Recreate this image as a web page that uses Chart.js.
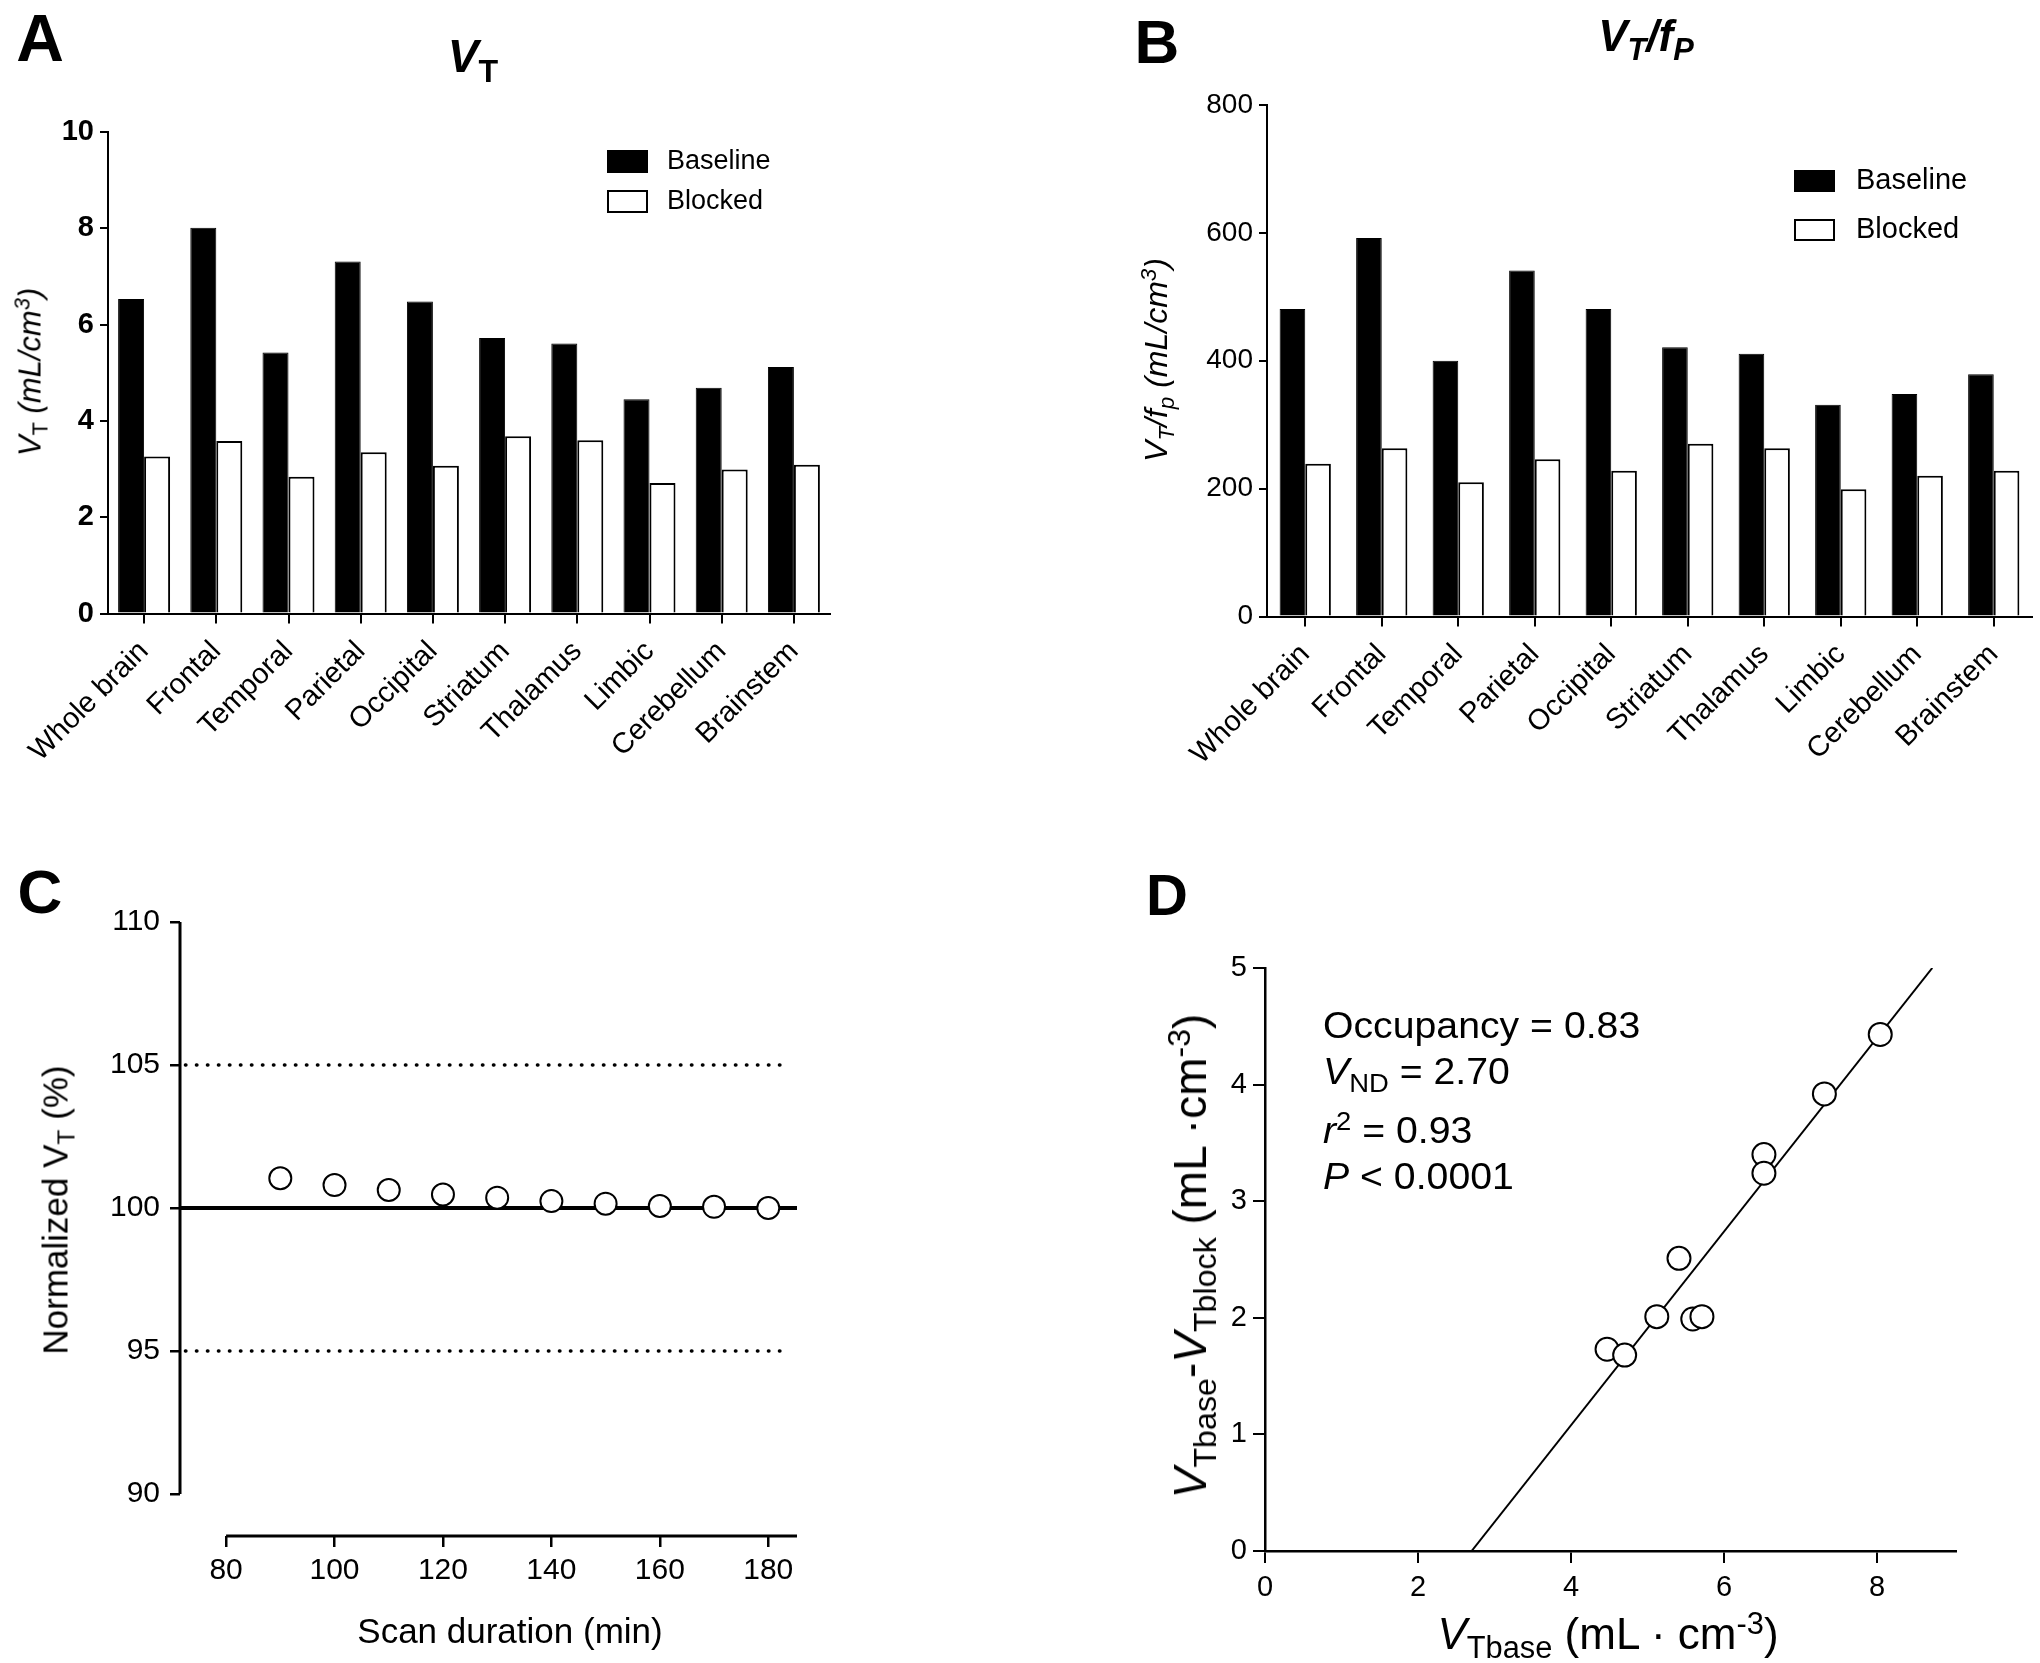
<!DOCTYPE html>
<html>
<head>
<meta charset="utf-8">
<script src="https://cdn.jsdelivr.net/npm/chart.js@4.4.0/dist/chart.umd.min.js"></script>
<style>
  body { margin: 0; background: #fff; width: 2040px; height: 1663px; position: relative; overflow: hidden;
         font-family: 'Liberation Sans', Arial, sans-serif; color: #000; }
  canvas { position: absolute; }
  .lbl { position: absolute; white-space: nowrap; line-height: 1; transform: translate(-50%, -50%); }
  .rot { transform: translate(-50%, -50%) rotate(-90deg); }
  .left { transform: translate(0, -50%) scaleX(1.06); transform-origin: left center; }
  sub, sup { font-size: 0.7em; line-height: 0; position: relative; vertical-align: baseline; }
  sub { top: 0.3em; }
  sup { top: -0.5em; }
  .letter { font-weight: bold; }
</style>
</head>
<body>
<canvas id="chartA" width="1000" height="800" style="left:0px;top:0px"></canvas>
<canvas id="chartB" width="1040" height="800" style="left:1000px;top:0px"></canvas>
<canvas id="chartC" width="1000" height="833" style="left:0px;top:830px"></canvas>
<canvas id="chartD" width="1000" height="833" style="left:1040px;top:830px"></canvas>

<!-- lettres et titres -->
<div class="lbl letter" style="left:40px;top:38px;font-size:66px">A</div>
<div class="lbl letter" style="left:1157px;top:42px;font-size:62px">B</div>
<div class="lbl letter" style="left:40px;top:892px;font-size:62px">C</div>
<div class="lbl letter" style="left:1167px;top:895px;font-size:58px">D</div>

<div class="lbl" style="left:473px;top:56px;font-size:46px;font-weight:bold"><i>V</i><sub>T</sub></div>
<div class="lbl" style="left:1646px;top:36px;font-size:44px;font-weight:bold;font-style:italic">V<sub>T</sub>/f<sub>P</sub></div>

<div class="lbl rot" style="left:30px;top:372px;font-size:31px"><i>V</i><sub>T</sub> <i>(mL/cm<sup>3</sup>)</i></div>
<div class="lbl rot" style="left:1156px;top:360px;font-size:32px;font-style:italic">V<sub>T</sub>/f<sub>p</sub> (mL/cm<sup>3</sup>)</div>

<div class="lbl rot" style="left:55px;top:1210px;font-size:35px">Normalized V<sub>T</sub> (%)</div>
<div class="lbl" style="left:510px;top:1630px;font-size:35px">Scan duration (min)</div>

<div class="lbl rot" style="left:1190px;top:1256px;font-size:46px"><i>V</i><sub>Tbase</sub>-<i>V</i><sub>Tblock</sub> (mL ·cm<sup>-3</sup>)</div>
<div class="lbl" style="left:1608px;top:1634px;font-size:44px"><i>V</i><sub>Tbase</sub> (mL · cm<sup>-3</sup>)</div>

<div class="lbl left" style="left:1323px;top:1025px;font-size:37px">Occupancy = 0.83</div>
<div class="lbl left" style="left:1323px;top:1071px;font-size:37px"><i>V</i><sub>ND</sub> = 2.70</div>
<div class="lbl left" style="left:1323px;top:1130px;font-size:37px"><i>r</i><sup>2</sup> = 0.93</div>
<div class="lbl left" style="left:1323px;top:1176px;font-size:37px"><i>P</i> &lt; 0.0001</div>

<script>
// Données
const regions = ['Whole brain', 'Frontal', 'Temporal', 'Parietal', 'Occipital',
                 'Striatum', 'Thalamus', 'Limbic', 'Cerebellum', 'Brainstem'];
const vtBaseline = [6.53, 8.01, 5.42, 7.31, 6.48, 5.72, 5.61, 4.45, 4.69, 5.12];
const vtBlocked = [3.26, 3.58, 2.84, 3.35, 3.07, 3.68, 3.60, 2.71, 2.99, 3.09];
const vtfpBaseline = [481, 592, 400, 541, 481, 421, 411, 331, 348, 379];
const vtfpBlocked = [239, 263, 210, 246, 228, 270, 263, 199, 220, 228];

const scanDuration = [90, 100, 110, 120, 130, 140, 150, 160, 170, 180];
const normalizedVt = [101.04, 100.80, 100.63, 100.47, 100.36, 100.24, 100.15, 100.07, 100.04, 100.00];
const refLineX = [71.5, 185.3];
const refLine = [100, 100];
const limitX = [72.5, 182.7];
const upperLimit = [105, 105];
const lowerLimit = [95, 95];

const vtBase = [8.04, 7.31, 6.52, 6.52, 5.41, 5.12, 5.59, 5.71, 4.47, 4.70];
const vtDiff = [4.43, 3.92, 3.40, 3.24, 2.51, 2.01, 1.99, 2.01, 1.73, 1.68];
const fitX = [2.70, 8.72];
const fitY = [0, 5];

// Graduations
const ticksA = [0, 2, 4, 6, 8, 10];
const ticksB = [0, 200, 400, 600, 800];
const ticksCx = [80, 100, 120, 140, 160, 180];
const ticksCy = [90, 95, 100, 105, 110];
const ticksDx = [0, 2, 4, 6, 8];
const ticksDy = [0, 1, 2, 3, 4, 5];

Chart.defaults.color = '#000';
Chart.defaults.font.family = "'Liberation Sans', Arial, sans-serif";
Chart.defaults.animation = false;
Chart.defaults.plugins.legend.display = false;
Chart.defaults.plugins.tooltip.enabled = false;

const pts = (xs, ys) => xs.map((x, i) => ({ x: x, y: ys[i] }));
const fixTicks = list => scale => { scale.ticks = list.map(v => ({ value: v })); };

// Légende dessinée à partir des datasets
const boxLegend = {
    id: 'boxLegend',
    afterDraw(chart, args, opts) {
        const { ctx, chartArea } = chart;
        ctx.save();
        ctx.font = opts.font;
        ctx.textBaseline = 'middle';
        chart.data.datasets.forEach((ds, i) => {
            const x = chartArea.left + opts.x;
            const y = chartArea.top + opts.y + i * opts.gap;
            ctx.fillStyle = ds.backgroundColor;
            ctx.fillRect(x, y, opts.boxW, opts.boxH);
            ctx.lineWidth = 2;
            ctx.strokeStyle = '#000';
            ctx.strokeRect(x, y, opts.boxW, opts.boxH);
            ctx.fillStyle = '#000';
            ctx.fillText(ds.label, x + opts.boxW + opts.textGap, y + opts.boxH / 2);
        });
        ctx.restore();
    }
};

// Axes décalés (style GraphPad) pour le panneau C
const offsetAxes = {
    id: 'offsetAxes',
    afterDraw(chart, args, opts) {
        const { ctx, chartArea, scales } = chart;
        ctx.save();
        ctx.strokeStyle = '#000';
        ctx.lineWidth = opts.width;
        ctx.beginPath();
        ctx.moveTo(chartArea.left, scales.y.getPixelForValue(opts.yFrom));
        ctx.lineTo(chartArea.left, scales.y.getPixelForValue(opts.yTo));
        ctx.moveTo(scales.x.getPixelForValue(opts.xFrom), chartArea.bottom);
        ctx.lineTo(chartArea.right, chartArea.bottom);
        ctx.stroke();
        ctx.restore();
    }
};

function barChart(id, base, blocked, yMax, yTicks, pad, yWidth, xHeight, catPct, tickFont, legendOpts) {
    return new Chart(document.getElementById(id), {
        type: 'bar',
        data: {
            labels: regions,
            datasets: [
                { label: 'Baseline', data: base, backgroundColor: '#000', borderColor: '#000', borderWidth: 1 },
                { label: 'Blocked', data: blocked, backgroundColor: '#fff', borderColor: '#000', borderWidth: 2 }
            ]
        },
        options: {
            responsive: false,
            devicePixelRatio: 1,
            layout: { padding: pad },
            datasets: { bar: { categoryPercentage: catPct, barPercentage: 1 } },
            scales: {
                x: {
                    afterFit: s => { s.height = xHeight; },
                    grid: { offset: false, drawOnChartArea: false, drawTicks: true, tickLength: 10, color: '#000', lineWidth: 2 },
                    border: { display: true, color: '#000', width: 2 },
                    ticks: { autoSkip: false, minRotation: 45, maxRotation: 45, padding: 11,
                             font: { size: 29 } }
                },
                y: {
                    min: 0, max: yMax,
                    afterFit: s => { s.width = yWidth; },
                    afterBuildTicks: fixTicks(yTicks),
                    grid: { drawOnChartArea: false, drawTicks: true, tickLength: 8, color: '#000', lineWidth: 2 },
                    border: { display: true, color: '#000', width: 2 },
                    ticks: { padding: 6, font: tickFont }
                }
            },
            plugins: { boxLegend: legendOpts }
        },
        plugins: [boxLegend]
    });
}

barChart('chartA', vtBaseline, vtBlocked, 10, ticksA,
    { left: 0, top: 132, right: 170, bottom: 6 }, 108, 180.5, 0.72,
    { family: "'Liberation Sans Narrow', 'Liberation Sans', Arial", size: 29, weight: 'bold' },
    { x: 500, y: 19, gap: 40, boxW: 39, boxH: 21, textGap: 20, font: "27px 'Liberation Sans', Arial" });

barChart('chartB', vtfpBaseline, vtfpBlocked, 800, ticksB,
    { left: 167, top: 105, right: 8, bottom: 6 }, 100, 177.5, 0.67,
    { size: 28 },
    { x: 528, y: 66, gap: 49, boxW: 39, boxH: 20, textGap: 22, font: "29px 'Liberation Sans', Arial" });

// Panneau C
new Chart(document.getElementById('chartC'), {
    type: 'scatter',
    data: {
        datasets: [
            { data: pts(scanDuration, normalizedVt), pointRadius: 11, pointBorderWidth: 2,
              pointBackgroundColor: '#fff', pointBorderColor: '#000' },
            { data: pts(refLineX, refLine), showLine: true, borderColor: '#000', borderWidth: 4, pointRadius: 0 },
            { data: pts(limitX, upperLimit), showLine: true, borderColor: '#000', borderWidth: 3.5,
              borderDash: [0.5, 10.5], borderCapStyle: 'round', pointRadius: 0 },
            { data: pts(limitX, lowerLimit), showLine: true, borderColor: '#000', borderWidth: 3.5,
              borderDash: [0.5, 10.5], borderCapStyle: 'round', pointRadius: 0 }
        ]
    },
    options: {
        responsive: false,
        devicePixelRatio: 1,
        layout: { padding: { left: 100, top: 92, right: 203, bottom: 2 } },
        scales: {
            x: {
                type: 'linear', min: 71.5, max: 185.3,
                afterFit: s => { s.height = 125; },
                afterBuildTicks: fixTicks(ticksCx),
                grid: { drawOnChartArea: false, drawTicks: true, tickLength: 11, color: '#000', lineWidth: 2.5 },
                border: { display: false },
                ticks: { padding: 6, font: { size: 30 } }
            },
            y: {
                min: 88.53, max: 110,
                afterFit: s => { s.width = 80; },
                afterBuildTicks: fixTicks(ticksCy),
                grid: { drawOnChartArea: false, drawTicks: true, tickLength: 10, color: '#000', lineWidth: 2.5 },
                border: { display: false },
                ticks: { padding: 10, font: { size: 30 } }
            }
        },
        plugins: { offsetAxes: { width: 3, yFrom: 90, yTo: 110, xFrom: 80 } }
    },
    plugins: [offsetAxes]
});

// Panneau D
new Chart(document.getElementById('chartD'), {
    type: 'scatter',
    data: {
        datasets: [
            { data: pts(vtBase, vtDiff), pointRadius: 11.5, pointBorderWidth: 2,
              pointBackgroundColor: '#fff', pointBorderColor: '#000' },
            { data: pts(fitX, fitY), showLine: true, borderColor: '#000', borderWidth: 2, pointRadius: 0 }
        ]
    },
    options: {
        responsive: false,
        devicePixelRatio: 1,
        layout: { padding: { left: 125, top: 138, right: 84, bottom: 2 } },
        scales: {
            x: {
                type: 'linear', min: 0, max: 9.03,
                afterFit: s => { s.height = 110; },
                afterBuildTicks: fixTicks(ticksDx),
                grid: { drawOnChartArea: false, drawTicks: true, tickLength: 12, color: '#000', lineWidth: 2 },
                border: { display: true, color: '#000', width: 2.5 },
                ticks: { padding: 8, font: { size: 29 } }
            },
            y: {
                min: 0, max: 5,
                afterFit: s => { s.width = 100; },
                afterBuildTicks: fixTicks(ticksDy),
                grid: { drawOnChartArea: false, drawTicks: true, tickLength: 12, color: '#000', lineWidth: 2 },
                border: { display: true, color: '#000', width: 2.5 },
                ticks: { padding: 6, font: { size: 29 } }
            }
        }
    }
});
</script>
</body>
</html>
